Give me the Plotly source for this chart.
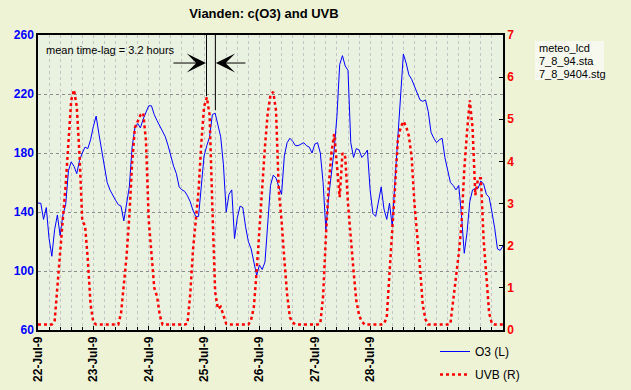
import plotly.graph_objects as go

# ---------------- data (hourly, starting 22-Jul 00h) ----------------
HOURS = list(range(169))

O3 = [146, 146, 135, 143, 122, 110, 128, 138, 124, 138,
      145, 168, 174, 171, 166, 175, 180, 184, 183, 189,
      198, 205, 193, 182, 173, 160, 155, 151, 148, 145,
      144, 134, 145, 157, 184, 197, 200, 197, 203, 207,
      212, 212, 206, 202, 198, 194, 191, 185, 178, 171,
      166, 157, 155, 154, 151, 147, 141, 137, 137, 160,
      178, 185, 191, 206, 207, 199, 191, 172, 140, 152,
      155, 122, 136, 144, 143, 130, 120, 115, 107, 97,
      104, 101, 106, 135, 158, 165, 163, 157, 152, 178,
      187, 190, 188, 185, 185, 186, 187, 185, 184, 180,
      186, 187, 180, 160, 128, 150, 167, 182, 205, 240,
      246, 239, 236, 187, 177, 183, 182, 177, 179, 182,
      155, 139, 137, 146, 157, 142, 135, 146, 130, 162,
      190, 223, 247, 241, 233, 230, 225, 221, 216, 215,
      216, 208, 194, 190, 187, 189, 190, 177, 168, 160,
      158, 155, 158, 138, 112, 126, 147, 155, 156, 156,
      161, 159, 152, 150, 140, 129, 115, 114, 117]

UVB = [0.13, 0.13, 0.13, 0.13, 0.13, 0.13, 0.2, 0.95, 1.8, 2.65,
       3.45, 4.6, 5.45, 5.7, 5.3, 4.15, 2.58, 2.48, 1.67, 0.6,
       0.18, 0.13, 0.13, 0.13, 0.13, 0.13, 0.13, 0.13, 0.13, 0.13,
       0.4, 1.0, 1.75, 2.7, 3.95, 4.8, 4.95, 5.1, 5.15, 4.5,
       2.62, 1.7, 1.0, 0.8, 0.35, 0.13, 0.13, 0.13, 0.13, 0.13,
       0.13, 0.13, 0.13, 0.13, 0.15, 0.85, 1.9, 2.6, 3.3, 4.43,
       5.3, 5.52, 5.1, 2.9, 0.9, 0.5, 0.55, 0.35, 0.15, 0.13,
       0.13, 0.13, 0.13, 0.13, 0.13, 0.13, 0.13, 0.24, 0.55, 1.4,
       2.46, 3.5, 4.35, 5.15, 5.58, 5.65, 5.2, 3.3, 2.6, 1.67,
       0.85, 0.3, 0.18, 0.13, 0.13, 0.13, 0.13, 0.13, 0.13, 0.13,
       0.13, 0.13, 0.15, 0.8, 2.2, 3.4, 4.2, 4.65, 3.9, 3.15,
       4.2, 4.1, 3.0, 2.1, 1.4, 0.7, 0.35, 0.2, 0.13, 0.13,
       0.13, 0.13, 0.13, 0.13, 0.13, 0.15, 0.3, 1.35, 2.3, 3.4,
       4.5, 4.8, 4.95, 4.83, 4.6, 4.1, 3.0, 2.3, 1.5, 0.6,
       0.25, 0.13, 0.13, 0.13, 0.13, 0.13, 0.13, 0.13, 0.13, 0.15,
       0.7, 1.35, 1.8, 2.5, 3.8, 4.7, 5.45, 4.8, 3.2, 3.6,
       3.6, 2.14, 1.15, 0.4, 0.15, 0.13, 0.13, 0.13, 0.13]

DATE_TICK_HOURS = [0, 20, 40, 60, 80, 100, 120]
DATE_LABELS = ["22-Jul-9", "23-Jul-9", "24-Jul-9", "25-Jul-9",
               "26-Jul-9", "27-Jul-9", "28-Jul-9"]
O3_TICKS = [60, 100, 140, 180, 220, 260]
UVB_TICKS = [0, 1, 2, 3, 4, 5, 6, 7]

UVB_PEAK_H = 60.88     # marked UVB maximum
UVB_PEAK_V = 5.55
TIME_LAG_H = 3.2
O3_PEAK_V = 209
INFO_LINES = ["meteo_lcd", "7_8_94.sta", "7_8_9404.stg"]

FONT = "Liberation Sans, Arial, sans-serif"

fig = go.Figure()
fig.add_trace(go.Scatter(x=HOURS, y=O3, mode="lines", name="O3 (L)",
                         line=dict(color="#0000ff", width=1),
                         legendgroup="a", yaxis="y"))
fig.add_trace(go.Scatter(x=HOURS, y=UVB, mode="lines", name="UVB (R)",
                         line=dict(color="#ff0000", width=2.5, dash="dot"),
                         legendgroup="b", yaxis="y2"))

o3_peak_h = UVB_PEAK_H + TIME_LAG_H

shapes = [
    dict(type="line", xref="x", yref="y2", x0=UVB_PEAK_H, x1=UVB_PEAK_H,
         y0=7, y1=UVB_PEAK_V, line=dict(color="black", width=1)),
    dict(type="line", xref="x", yref="y", x0=o3_peak_h, x1=o3_peak_h,
         y0=260, y1=O3_PEAK_V, line=dict(color="black", width=1)),
    dict(type="rect", xref="paper", yref="paper",
         x0=(535 - 38) / 465, x1=(604 - 38) / 465,
         y0=(330 - 80) / 295, y1=(330 - 41) / 295,
         fillcolor="#f7f9ee", line=dict(width=0), layer="below"),
]

annotations = [
    dict(text="mean time-lag = 3.2 hours", xref="paper", yref="paper",
         x=6 / 465, y=(330 - 50) / 295, xanchor="left", yanchor="middle",
         showarrow=False, font=dict(family=FONT, size=11, color="black")),
    # arrows
    dict(text="", xref="x", yref="y", x=UVB_PEAK_H - 0.2, y=241,
         ax=-34, ay=0, showarrow=True, arrowhead=3, arrowsize=3.2,
         arrowwidth=1, arrowcolor="black"),
    dict(text="", xref="x", yref="y", x=o3_peak_h + 0.2, y=241,
         ax=31, ay=0, showarrow=True, arrowhead=3, arrowsize=3.2,
         arrowwidth=1, arrowcolor="black"),
]
for i, line in enumerate(INFO_LINES):
    annotations.append(dict(text=line, xref="paper", yref="paper",
                            x=(537 - 38) / 465, y=(330 - (48 + 13 * i)) / 295,
                            xanchor="left", yanchor="middle", showarrow=False,
                            font=dict(family=FONT, size=11, color="black")))

fig.update_layout(
    width=631, height=390,
    margin=dict(l=38, r=128, t=35, b=60, autoexpand=False),
    paper_bgcolor="#eef3d6",
    plot_bgcolor="#e9f1e1",
    font=dict(family=FONT, color="black"),
    title=dict(text="<b>Vianden: c(O3) and UVB</b>", xref="container",
               yref="container", x=264 / 631, y=1 - 13 / 390,
               xanchor="center", yanchor="middle",
               font=dict(family=FONT, size=13, color="black")),
    xaxis=dict(range=[0, 168], tickmode="array", tickvals=DATE_TICK_HOURS,
               ticktext=DATE_LABELS, tickangle=-90,
               tickfont=dict(family=FONT, size=12, color="black", weight="bold"),
               showgrid=True, gridcolor="#c4c4c4", griddash="dot", gridwidth=1,
               ticks="inside", ticklen=4, tickcolor="black",
               minor=dict(dtick=4, tick0=0, showgrid=True, gridcolor="#c4c4c4",
                          griddash="dot", ticks="inside", ticklen=3,
                          tickcolor="black"),
               showline=True, linecolor="black", linewidth=1.5, mirror=True,
               zeroline=False, automargin=False),
    yaxis=dict(range=[60, 260], tickmode="array", tickvals=O3_TICKS,
               tickfont=dict(family=FONT, size=12, color="#0000ff", weight="bold"),
               showgrid=True, gridcolor="#8c8c8c", griddash="dot", gridwidth=1,
               ticks="", showline=True, linecolor="black", linewidth=1.5,
               mirror=True, zeroline=False, automargin=False),
    yaxis2=dict(range=[0, 7], tickmode="array", tickvals=UVB_TICKS,
                overlaying="y", side="right",
                tickfont=dict(family=FONT, size=12, color="#ff0000", weight="bold"),
                showgrid=False, ticks="inside", ticklen=4, tickcolor="black",
                showline=True, linecolor="black", linewidth=1.5,
                zeroline=False, automargin=False),
    legend=dict(xref="container", yref="container", x=435 / 631,
                y=1 - 337 / 390, xanchor="left", yanchor="top",
                bgcolor="rgba(0,0,0,0)", traceorder="grouped",
                tracegroupgap=4,
                font=dict(family=FONT, size=12, color="black")),
    shapes=shapes,
    annotations=annotations,
)

fig.write_html("out.html",
               config={"displayModeBar": False},
               post_script="document.body.style.margin='0px';"
                           "document.body.style.background='#eef3d6';")
